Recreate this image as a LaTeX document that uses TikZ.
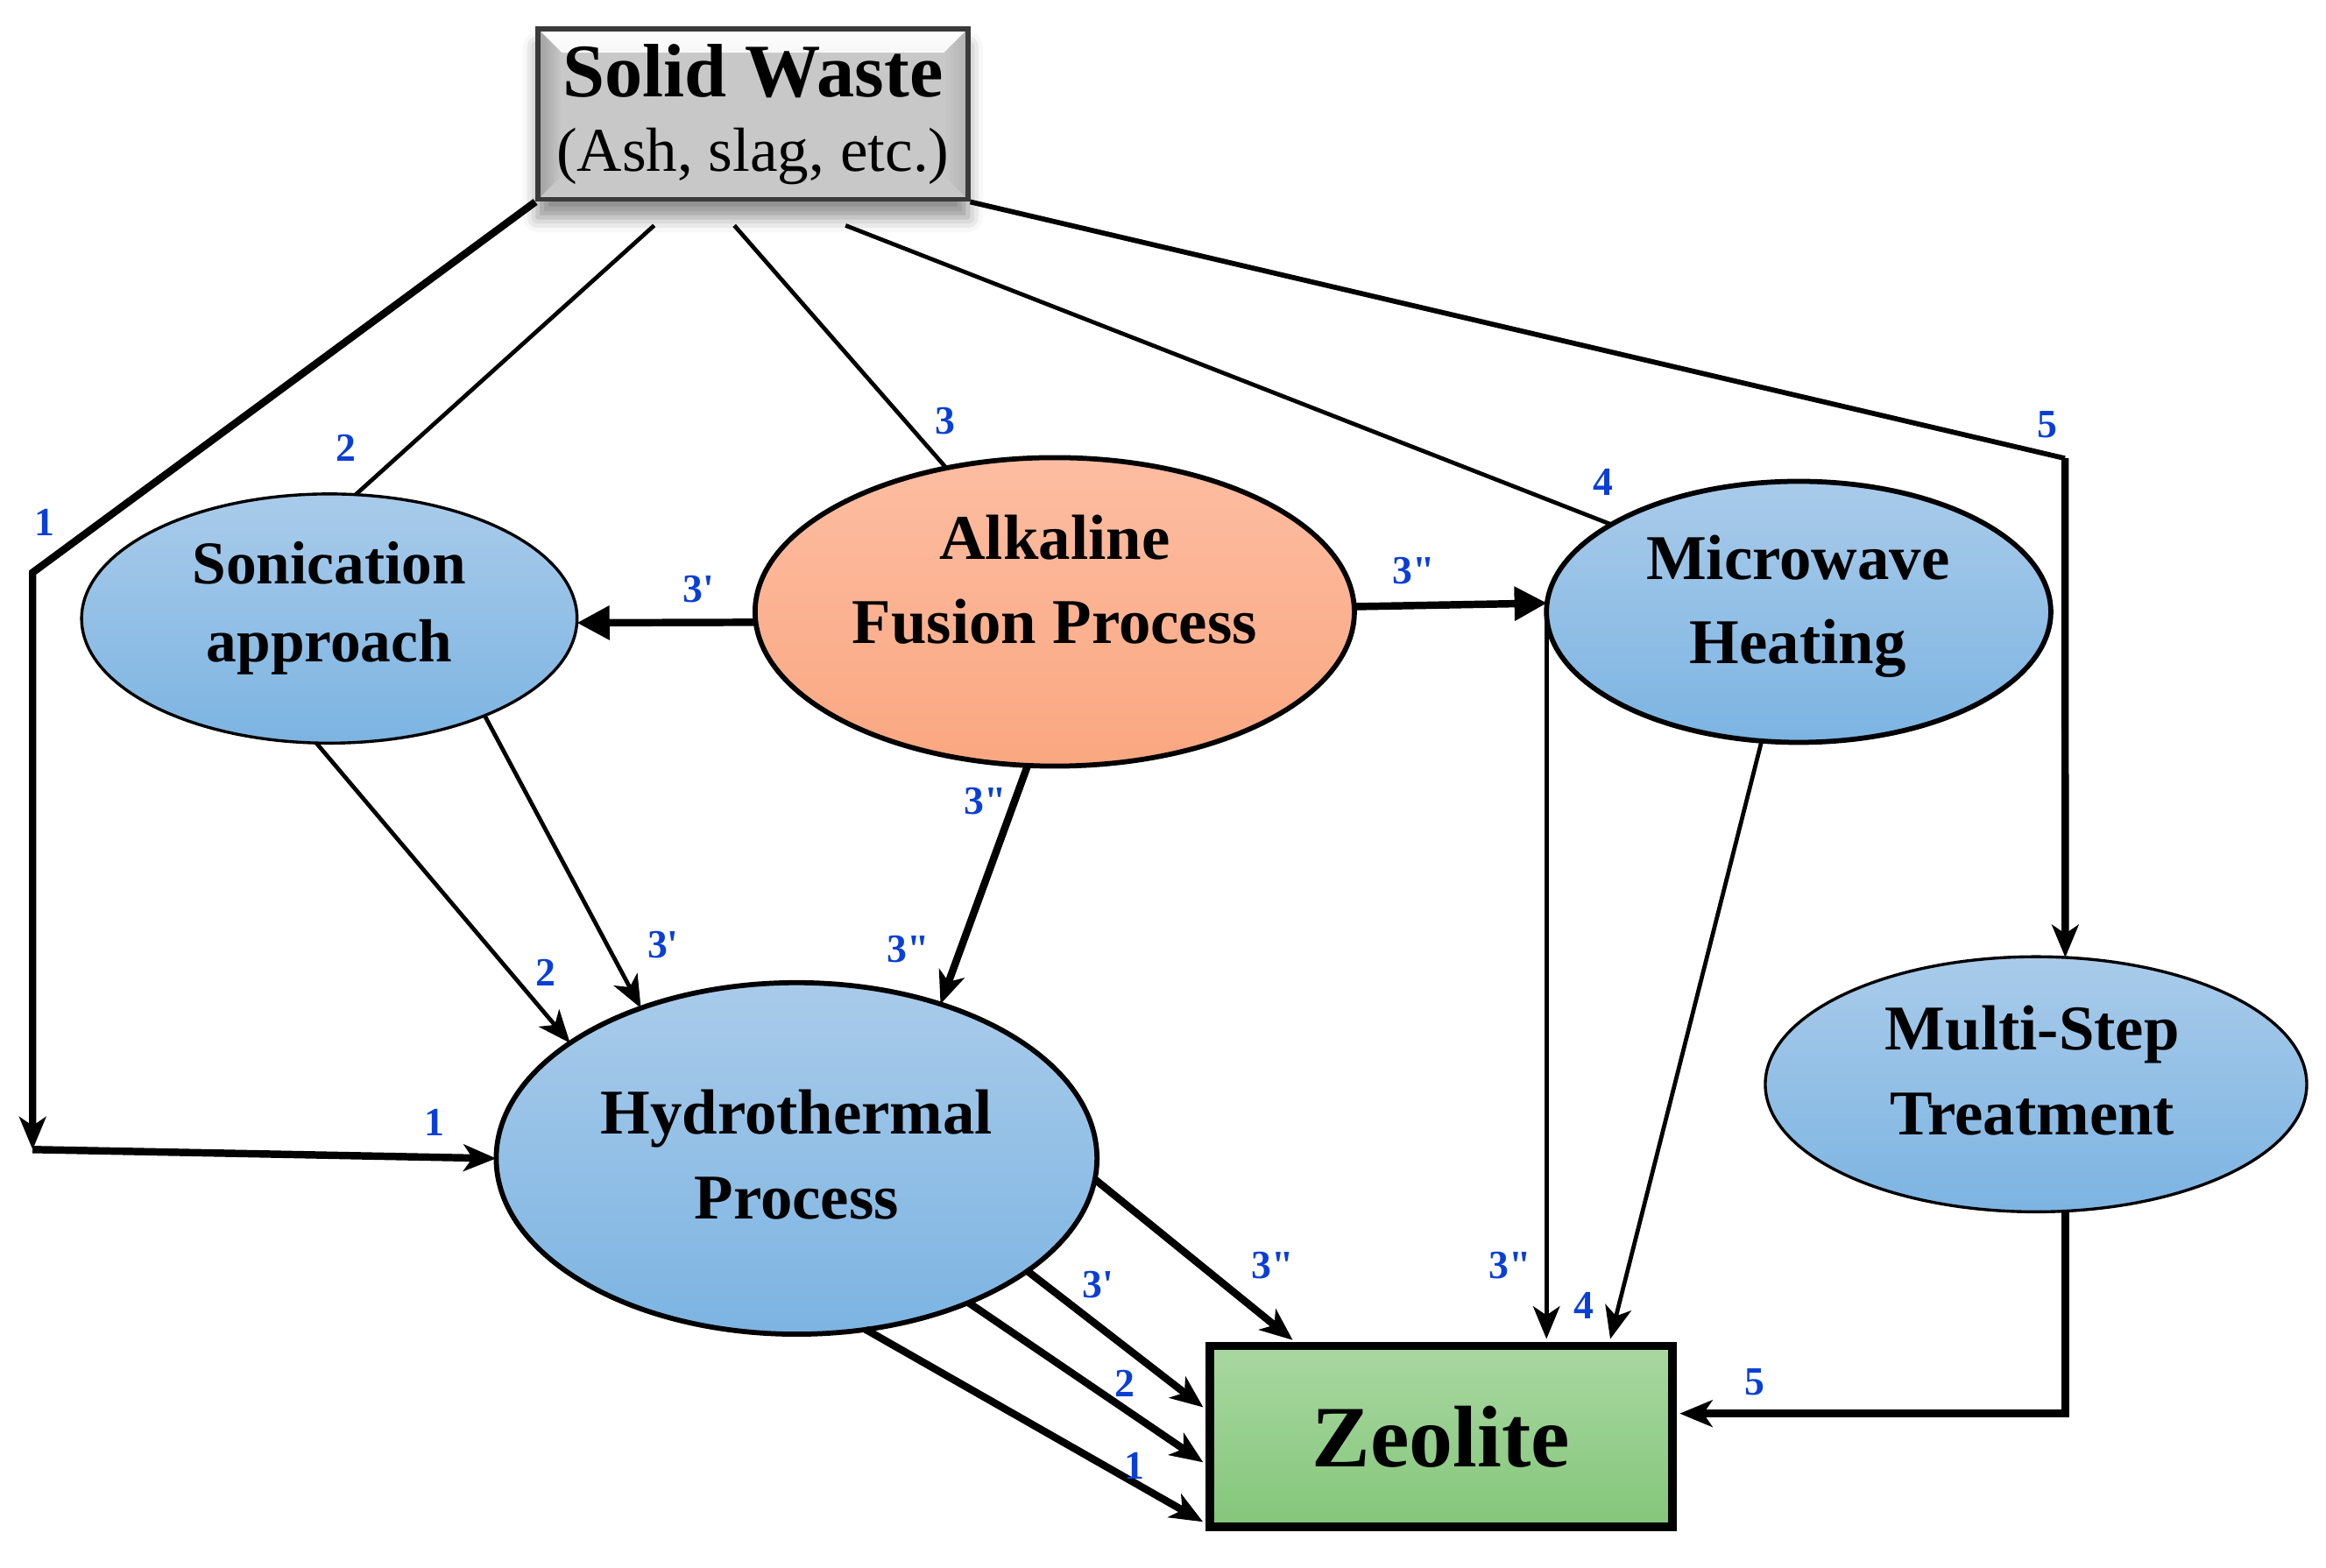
\documentclass[tikz,border=0pt]{standalone}
\usepackage{fontspec}
\setmainfont{Liberation Serif}
\newfontfamily\lblf{Liberation Serif}
\usetikzlibrary{arrows.meta,shapes.geometric,shadows.blur,calc}
\definecolor{blueT}{HTML}{A9CBEA}
\definecolor{blueB}{HTML}{7CB4E2}
\definecolor{salT}{HTML}{FDBDA2}
\definecolor{salB}{HTML}{FAA780}
\definecolor{grnT}{HTML}{A9D8A1}
\definecolor{grnB}{HTML}{84C67A}
\definecolor{lblue}{HTML}{0A3FD6}
\definecolor{swgray}{HTML}{C8C8C8}
\definecolor{swborder}{HTML}{3A3A3A}
\begin{document}
\begin{tikzpicture}[x=0.5pt,y=-0.5pt,
  ell/.style={ellipse, draw=black, inner sep=0pt, outer sep=0pt},
  blueell/.style={ell, top color=blueT, bottom color=blueB},
  ttxt/.style={font=\fontsize{21.5}{28.5}\selectfont\bfseries, align=center, anchor=base, inner sep=0pt},
  lbl/.style={font=\lblf\fontsize{13.5}{14}\selectfont\bfseries, text=lblue, inner sep=0pt},
  lnthin/.style={line width=1.4pt},
  lnmid/.style={line width=1.7pt},
  lnthick/.style={line width=2.5pt},
  arr/.style={-{Stealth[length=11pt,width=9pt,inset=3pt]}},
  tri/.style={-{Triangle[length=11pt,width=11pt]}},
]
\useasboundingbox (0,0) rectangle (1568,1057);

% ---------- nodes ----------
\node[draw=swborder, line width=1.6pt, fill=swgray, minimum width=145pt, minimum height=57.5pt,
      align=center, inner sep=0pt, font=\fontsize{21}{25}\selectfont,
      blur shadow={shadow xshift=0pt, shadow yshift=-6pt, shadow blur radius=5pt, shadow opacity=45},
      path picture={
        \fill[top color=white, bottom color=swgray]
          (path picture bounding box.north west) -- (path picture bounding box.north east)
          -- ([shift={(-8pt,-8pt)}]path picture bounding box.north east)
          -- ([shift={(8pt,-8pt)}]path picture bounding box.north west) -- cycle;
        \fill[left color=black!38, right color=swgray]
          (path picture bounding box.north west) -- ([shift={(8pt,-8pt)}]path picture bounding box.north west)
          -- ([shift={(8pt,8pt)}]path picture bounding box.south west) -- (path picture bounding box.south west) -- cycle;
        \fill[right color=black!30, left color=swgray]
          (path picture bounding box.north east) -- ([shift={(-8pt,-8pt)}]path picture bounding box.north east)
          -- ([shift={(-8pt,8pt)}]path picture bounding box.south east) -- (path picture bounding box.south east) -- cycle;
      }] (sw) at (507.5,77)
  {{\fontsize{25.5}{25}\selectfont\bfseries Solid Waste}\\(Ash, slag, etc.)};

\node[blueell, line width=1pt, minimum width=167pt, minimum height=84pt] (son) at (222,417) {};
\node[ell, line width=1.7pt, top color=salT, bottom color=salB, minimum width=202pt, minimum height=104pt] (alk) at (711,412.5) {};
\node[blueell, line width=1.7pt, minimum width=170pt, minimum height=88pt] (mw) at (1212.5,412.5) {};
\node[blueell, line width=1.7pt, minimum width=202.5pt, minimum height=118.5pt] (hyd) at (537,781) {};
\node[blueell, line width=1pt, minimum width=182.5pt, minimum height=86pt] (ms) at (1372.5,731) {};
\node[draw=black, line width=2.8pt, top color=grnT, bottom color=grnB, minimum width=156pt, minimum height=61pt,
      inner sep=0pt, font=\fontsize{29.5}{29}\selectfont\bfseries] (zeo) at (971.5,968.5) {Zeolite};

% texts of the ellipses (anchored on the baseline of the last line)
\node[ttxt, font=\fontsize{20.5}{26.3}\selectfont\bfseries] (sontxt) at (222,446) {Sonication\\approach};
\node[ttxt] (alktxt) at (711,434) {Alkaline\\Fusion Process};
\node[ttxt] (mwtxt) at (1212,447.5) {Microwave\\Heating};
\node[ttxt] (hydtxt) at (537,821.5) {Hydrothermal\\Process};
\node[ttxt] (mstxt) at (1370,765) {Multi-Step\\Treatment};

% ---------- connectors ----------
\coordinate (c1a) at (22,386);
\coordinate (c1b) at (22,775);
\coordinate (s2) at (441,152);
\coordinate (s3) at (495,152);
\coordinate (s4) at (570,152);
\coordinate (c5) at (1392,309);

\draw[lnthick, arr] (sw.south west) -- (c1a) -- (c1b);
\draw[lnthick, arr] (c1b) -- (hyd.west);
\draw[lnthin] (s2) -- (son.78.2);
\draw[lnthin] (s3) -- (alk.127.1);
\draw[lnthin] (s4) -- (mw.155.4);
\draw[lnmid] (sw.south east) -- (c5);
\draw[lnthick, arr] (c5) -- (ms.77);
\draw[lnthick, arr, shorten >=1pt] (ms.-77) |- ($(zeo.east)+(0,-15.5)$);

\draw[lnthick, tri] (alk.182.3) -- (son.-1);
\draw[lnthick, tri] (alk.1.7) -- (mw.178);
\draw[lnthick, arr] (alk.260.3) -- (hyd.47.9);
\draw[lnthin, arr] (son.264.6) -- (hyd.153.2);
\draw[lnthin, arr] (son.-32.1) -- (hyd.136.1);
\draw[lnthin, arr, shorten >=1pt] (mw.west) -- (mw.west |- zeo.north);
\draw[lnthin, arr, shorten >=1pt] (mw.254.9) -- ($(zeo.north)+(113.5,0)$);
\draw[lnthick, arr, shorten >=1pt] (hyd.-4) -- ($(zeo.north)+(-98.5,0)$);
\draw[lnthick, arr, shorten >=1pt] (hyd.-26.9) -- ($(zeo.west)+(0,-18.5)$);
\draw[lnthick, arr, shorten >=1pt] (hyd.-40) -- ($(zeo.west)+(0,18.5)$);
\draw[lnthick, arr, shorten >=1pt] (hyd.-68.2) -- ($(zeo.west)+(0,58.5)$);

% ---------- labels ----------
\node[lbl] (l1a) at (30,352) {1};
\node[lbl] (l2a) at (233,302) {2};
\node[lbl] (l3a) at (637,284) {3};
\node[lbl] (l4a) at (1081,325) {4};
\node[lbl] (l5a) at (1380,286) {5};
\node[lbl] (l3p) at (471,397) {3'};
\node[lbl] (l3pp) at (953,385) {3"};
\node[lbl] (l3ppb) at (664,540) {3"};
\node[lbl] (l2b) at (368,656) {2};
\node[lbl] (l3pb) at (447,637) {3'};
\node[lbl] (l3ppc) at (612,640) {3"};
\node[lbl] (l1b) at (293,757) {1};
\node[lbl] (l3ppd) at (858,853) {3"};
\node[lbl] (l3pc) at (740,866) {3'};
\node[lbl] (l2c) at (758,933) {2};
\node[lbl] (l1c) at (765,988) {1};
\node[lbl] (l3ppe) at (1018,853) {3"};
\node[lbl] (l4b) at (1068,880) {4};
\node[lbl] (l5b) at (1183,932) {5};
\end{tikzpicture}
\end{document}
